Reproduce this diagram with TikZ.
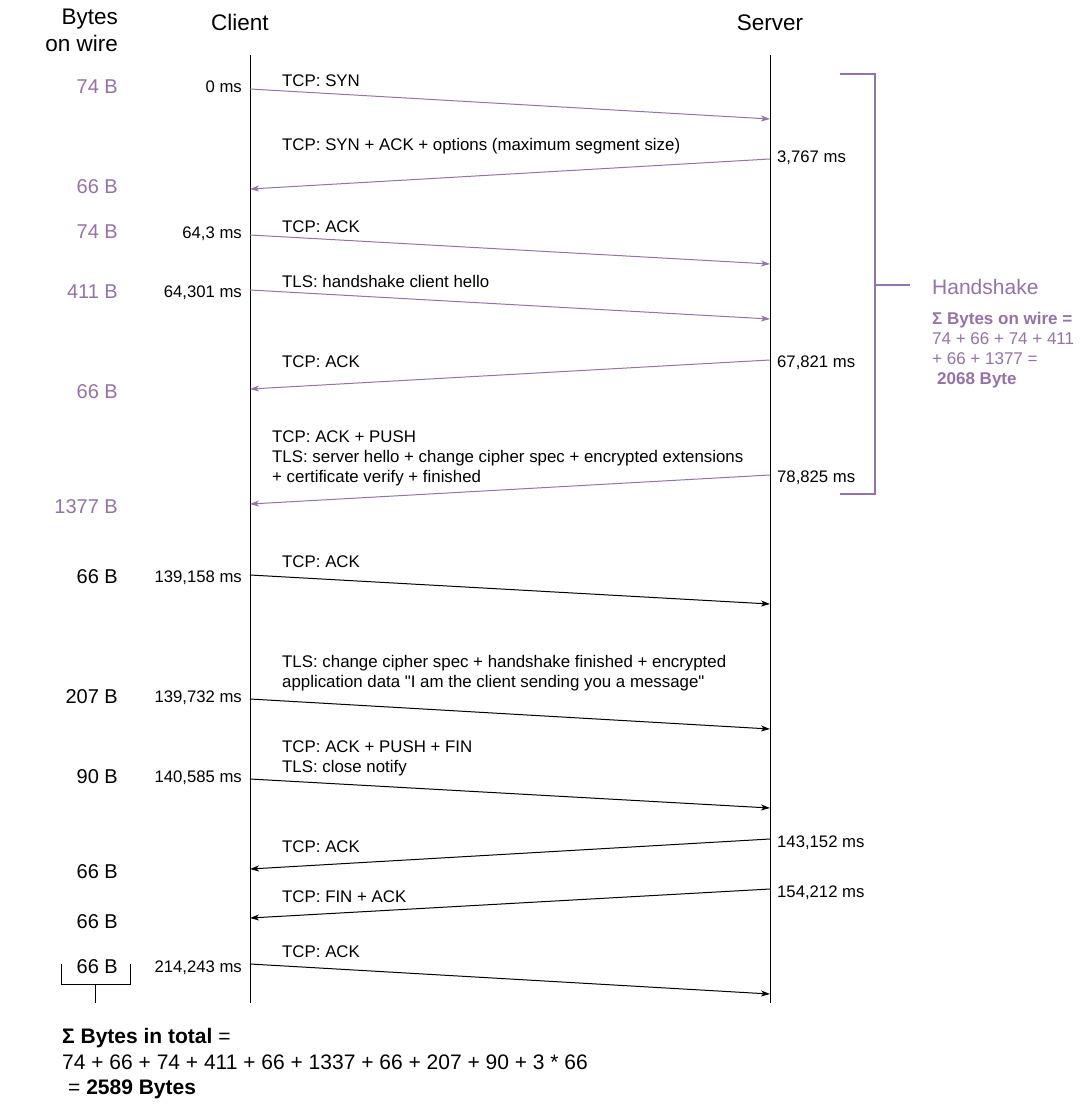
\documentclass[tikz,border=0pt]{standalone}
\usepackage{fontspec}
\setmainfont{Liberation Sans}[Ligatures=TeXOff]
\usetikzlibrary{arrows.meta}
\definecolor{hs}{HTML}{9673A6}
\tikzset{
  lbl/.style={font=\fontsize{16.85}{20}\selectfont, inner sep=0pt, anchor=base west},
  tmr/.style={font=\fontsize{16.7}{20}\selectfont, inner sep=0pt, anchor=base west},
  tml/.style={font=\fontsize{16.7}{20}\selectfont, inner sep=0pt, anchor=base east},
  bytes/.style={font=\fontsize{20}{24}\selectfont, inner sep=0pt, anchor=base east},
  hdr/.style={font=\fontsize{22.5}{26}\selectfont, inner sep=0pt},
  bigtxt/.style={font=\fontsize{21}{25}\selectfont, inner sep=0pt, anchor=base west},
  life/.style={draw=black, line width=1pt},
  msg/.style={line width=1pt, draw=black, -{Stealth[length=9pt,width=6pt,inset=2.5pt]}},
  hsmsg/.style={msg, draw=hs},
  brace/.style={line width=1pt, draw=black},
  hsbrace/.style={line width=2pt, draw=hs},
}
\begin{document}
\begin{tikzpicture}[x=1pt,y=-1pt]
\useasboundingbox[fill=white] (0,0) rectangle (1081,1106);

% headers
\node[hdr, anchor=base east] (hb1) at (118,24) {Bytes};
\node[hdr, anchor=base east] (hb2) at (118,51) {on wire};
\node[hdr, anchor=base] (hc) at (240,30) {Client};
\node[hdr, anchor=base] (hsv) at (770,30) {Server};

% lifelines
\coordinate (ctop) at (250,55);
\coordinate (cbot) at (250,1003);
\coordinate (stop) at (770,55);
\coordinate (sbot) at (770,1003);
\draw[life] (ctop) -- (cbot);
\draw[life] (stop) -- (sbot);

% message end points
\coordinate (c1) at (250,89);   \coordinate (s1) at (770,119);
\coordinate (s2) at (770,159);  \coordinate (c2) at (250,189);
\coordinate (c3) at (250,235);  \coordinate (s3) at (770,264);
\coordinate (c4) at (250,290);  \coordinate (s4) at (770,319);
\coordinate (s5) at (770,360);  \coordinate (c5) at (250,389);
\coordinate (s6) at (770,475);  \coordinate (c6) at (250,504);
\coordinate (c7) at (250,575);  \coordinate (s7) at (770,604);
\coordinate (c8) at (250,699);  \coordinate (s8) at (770,729);
\coordinate (c9) at (250,779);  \coordinate (s9) at (770,808);
\coordinate (s10) at (770,839); \coordinate (c10) at (250,869);
\coordinate (s11) at (770,889); \coordinate (c11) at (250,918);
\coordinate (c12) at (250,964); \coordinate (s12) at (770,994);

% messages
\draw[hsmsg] (c1) -- (s1);
\draw[hsmsg] (s2) -- (c2);
\draw[hsmsg] (c3) -- (s3);
\draw[hsmsg] (c4) -- (s4);
\draw[hsmsg] (s5) -- (c5);
\draw[hsmsg] (s6) -- (c6);
\draw[msg] (c7) -- (s7);
\draw[msg] (c8) -- (s8);
\draw[msg] (c9) -- (s9);
\draw[msg] (s10) -- (c10);
\draw[msg] (s11) -- (c11);
\draw[msg] (c12) -- (s12);

% message labels
\node[lbl] (m1) at (282,86) {TCP: SYN};
\node[lbl] (m2) at (282,150) {TCP: SYN + ACK + options (maximum segment size)};
\node[lbl] (m3) at (282,232) {TCP: ACK};
\node[lbl] (m4) at (282,287) {TLS: handshake client hello};
\node[lbl] (m5) at (282,367) {TCP: ACK};
\node[lbl] (m6a) at (272,442) {TCP: ACK + PUSH};
\node[lbl] (m6b) at (272,462) {TLS: server hello + change cipher spec + encrypted extensions};
\node[lbl] (m6c) at (272,482) {+ certificate verify + finished};
\node[lbl] (m7) at (282,567) {TCP: ACK};
\node[lbl] (m8a) at (282,667) {TLS: change cipher spec + handshake finished + encrypted};
\node[lbl] (m8b) at (282,687) {application data "I am the client sending you a message"};
\node[lbl] (m9a) at (282,752) {TCP: ACK + PUSH + FIN};
\node[lbl] (m9b) at (282,772) {TLS: close notify};
\node[lbl] (m10) at (282,852) {TCP: ACK};
\node[lbl] (m11) at (282,902) {TCP: FIN + ACK};
\node[lbl] (m12) at (282,957) {TCP: ACK};

% time labels client side
\node[tml] (t1) at (242,92) {0 ms};
\node[tml] (t3) at (242,238) {64,3 ms};
\node[tml] (t4) at (242,297) {64,301 ms};
\node[tml] (t7) at (242,582) {139,158 ms};
\node[tml] (t8) at (242,702) {139,732 ms};
\node[tml] (t9) at (242,782) {140,585 ms};
\node[tml] (t12) at (242,972) {214,243 ms};
% time labels server side
\node[tmr] (t2) at (777,162) {3,767 ms};
\node[tmr] (t5) at (777,367) {67,821 ms};
\node[tmr] (t6) at (777,482) {78,825 ms};
\node[tmr] (t10) at (777,847) {143,152 ms};
\node[tmr] (t11) at (777,897) {154,212 ms};

% bytes on wire
\node[bytes, text=hs] (b1) at (118,93) {74 B};
\node[bytes, text=hs] (b2) at (118,193) {66 B};
\node[bytes, text=hs] (b3) at (118,238) {74 B};
\node[bytes, text=hs] (b4) at (118,298) {411 B};
\node[bytes, text=hs] (b5) at (118,398) {66 B};
\node[bytes, text=hs] (b6) at (118,513) {1377 B};
\node[bytes] (b7) at (118,583) {66 B};
\node[bytes] (b8) at (118,703) {207 B};
\node[bytes] (b9) at (118,783) {90 B};
\node[bytes] (b10) at (118,878) {66 B};
\node[bytes] (b11) at (118,928) {66 B};
\node[bytes] (b12) at (118,973) {66 B};

% handshake bracket
\coordinate (hbt) at (840,74);
\coordinate (hbb) at (840,494);
\coordinate (hbm) at (875,285);
\coordinate (hbs) at (910,285);
\draw[hsbrace] (hbt) -- (875,74) -- (875,494) -- (hbb);
\draw[hsbrace] (hbm) -- (hbs);
\node[font=\fontsize{21}{25}\selectfont, inner sep=0pt, anchor=base west, text=hs] (hsh) at (932,294) {Handshake};
\node[lbl, text=hs, font=\fontsize{17}{20}\selectfont\bfseries] (hs1) at (932,324) {Σ Bytes on wire =};
\node[lbl, text=hs, font=\fontsize{17}{20}\selectfont] (hs2) at (932,344) {74 + 66 + 74 + 411};
\node[lbl, text=hs, font=\fontsize{17}{20}\selectfont] (hs3) at (932,364) {+ 66 + 1377 =};
\node[lbl, text=hs, font=\fontsize{17}{20}\selectfont\bfseries] (hs4) at (937,384) {2068 Byte};

% bottom bracket
\coordinate (bbl) at (61,964);
\coordinate (bbr) at (130,964);
\coordinate (bbm) at (95,984);
\coordinate (bbs) at (95,1003);
\draw[brace] (bbl) -- (61,984) -- (130,984) -- (bbr);
\draw[brace] (bbm) -- (bbs);

% total
\node[bigtxt] (tot1) at (62,1043) {\textbf{Σ Bytes in total} =};
\node[bigtxt] (tot2) at (62,1069) {74 + 66 + 74 + 411 + 66 + 1337 + 66 + 207 + 90 + 3 * 66};
\node[bigtxt] (tot3) at (68,1094) {= \textbf{2589 Bytes}};
\end{tikzpicture}
\end{document}
